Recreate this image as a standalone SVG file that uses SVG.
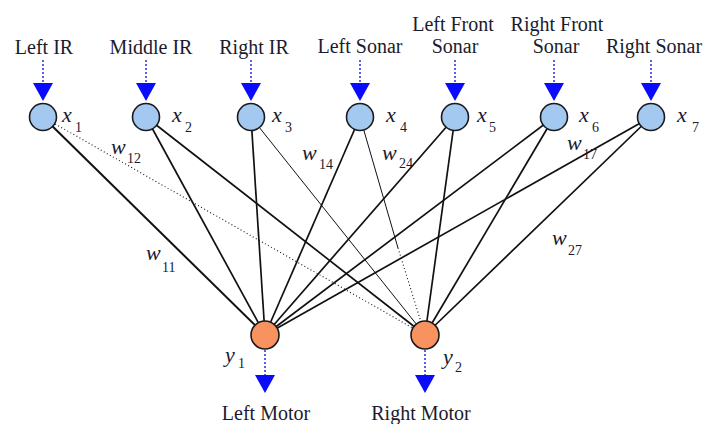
<svg xmlns="http://www.w3.org/2000/svg" width="707" height="424" viewBox="0 0 707 424">
  <style>
    .lbl { font-family: "Liberation Serif", "Times New Roman", serif; font-size: 20px; fill: #1b1b2e; text-anchor: middle; }
    .var { font-family: "Liberation Serif", "Times New Roman", serif; font-style: italic; font-size: 22px; fill: #1b1b2e; }
    .sub { font-family: "Liberation Serif", "Times New Roman", serif; font-size: 14px; fill: #1b1b2e; }
    .in { fill: #a3c9f1; stroke: #1a1a1a; stroke-width: 1.6; }
    .out { fill: #f8925e; stroke: #1a1a1a; stroke-width: 1.6; }
    .w { stroke: #111; stroke-width: 1.7; fill: none; }
    .thin { stroke: #111; stroke-width: 1; fill: none; }
    .dot { stroke: #111; stroke-width: 1.1; stroke-dasharray: 1 2.5; fill: none; }
    .feed { stroke: #2a2ae0; stroke-width: 1.5; stroke-dasharray: 2 2; fill: none; }
    .head { fill: #0a0aff; }
  </style>

  <!-- weighted connections, inputs to outputs -->
  <g id="connectors">
    <line class="w" x1="43" y1="117" x2="265" y2="335" style="stroke-width:2"/>
    <line class="dot" x1="43" y1="117" x2="425" y2="335"/>
    <line class="w" x1="146" y1="117" x2="265" y2="335"/>
    <line class="w" x1="146" y1="117" x2="425" y2="335"/>
    <line class="w" x1="251" y1="117" x2="265" y2="335"/>
    <line class="thin" x1="251" y1="117" x2="425" y2="335"/>
    <line class="w" x1="360" y1="117" x2="265" y2="335"/>
    <line class="thin" x1="360" y1="117" x2="398" y2="248"/>
    <line class="dot" x1="398" y1="248" x2="425" y2="335"/>
    <line class="w" x1="455" y1="117" x2="265" y2="335"/>
    <line class="w" x1="455" y1="117" x2="425" y2="335"/>
    <line class="w" x1="554" y1="117" x2="265" y2="335"/>
    <line class="w" x1="554" y1="117" x2="425" y2="335"/>
    <line class="w" x1="651" y1="117" x2="265" y2="335"/>
    <line class="w" x1="651" y1="117" x2="425" y2="335"/>
  </g>

  <!-- weight labels -->
  <g id="weights">
    <text class="var" x="111" y="154">w</text><text class="sub" x="127" y="163">12</text>
    <text class="var" x="146" y="260">w</text><text class="sub" x="162" y="272">11</text>
    <text class="var" x="302" y="160">w</text><text class="sub" x="319" y="169">14</text>
    <text class="var" x="382" y="160">w</text><text class="sub" x="399" y="168">24</text>
    <text class="var" x="567" y="150">w</text><text class="sub" x="583" y="159">17</text>
    <text class="var" x="552" y="245">w</text><text class="sub" x="568" y="255">27</text>
  </g>

  <!-- input nodes -->
  <g id="in1">
    <text class="lbl" x="44" y="54">Left IR</text>
    <line class="feed" x1="43" y1="60" x2="43" y2="84"/>
    <polygon class="head" points="33,83 53,83 43,101"/>
    <circle class="in" cx="43" cy="117" r="13.5"/>
    <text class="var" x="62" y="122">x</text><text class="sub" x="75" y="132">1</text>
  </g>
  <g id="in2">
    <text class="lbl" x="151" y="54">Middle IR</text>
    <line class="feed" x1="146" y1="60" x2="146" y2="84"/>
    <polygon class="head" points="136,83 156,83 146,101"/>
    <circle class="in" cx="146" cy="117" r="13.5"/>
    <text class="var" x="172" y="122">x</text><text class="sub" x="185" y="132">2</text>
  </g>
  <g id="in3">
    <text class="lbl" x="254" y="54">Right IR</text>
    <line class="feed" x1="251" y1="60" x2="251" y2="84"/>
    <polygon class="head" points="241,83 261,83 251,101"/>
    <circle class="in" cx="251" cy="117" r="13.5"/>
    <text class="var" x="272" y="122">x</text><text class="sub" x="285" y="132">3</text>
  </g>
  <g id="in4">
    <text class="lbl" x="360" y="53">Left Sonar</text>
    <line class="feed" x1="360" y1="60" x2="360" y2="84"/>
    <polygon class="head" points="350,83 370,83 360,101"/>
    <circle class="in" cx="360" cy="117" r="13.5"/>
    <text class="var" x="386" y="122">x</text><text class="sub" x="400" y="132">4</text>
  </g>
  <g id="in5">
    <text class="lbl" x="453" y="31">Left Front</text>
    <text class="lbl" x="455" y="53">Sonar</text>
    <line class="feed" x1="455" y1="60" x2="455" y2="84"/>
    <polygon class="head" points="445,83 465,83 455,101"/>
    <circle class="in" cx="455" cy="117" r="13.5"/>
    <text class="var" x="477" y="122">x</text><text class="sub" x="489" y="132">5</text>
  </g>
  <g id="in6">
    <text class="lbl" x="557" y="31">Right Front</text>
    <text class="lbl" x="556" y="53">Sonar</text>
    <line class="feed" x1="554" y1="60" x2="554" y2="84"/>
    <polygon class="head" points="544,83 564,83 554,101"/>
    <circle class="in" cx="554" cy="117" r="13.5"/>
    <text class="var" x="579" y="122">x</text><text class="sub" x="592" y="132">6</text>
  </g>
  <g id="in7">
    <text class="lbl" x="654" y="53">Right Sonar</text>
    <line class="feed" x1="651" y1="60" x2="651" y2="84"/>
    <polygon class="head" points="641,83 661,83 651,101"/>
    <circle class="in" cx="651" cy="117" r="13.5"/>
    <text class="var" x="677" y="122">x</text><text class="sub" x="692" y="132">7</text>
  </g>

  <!-- output nodes -->
  <g id="out1">
    <circle class="out" cx="265" cy="335" r="14"/>
    <line class="feed" x1="265" y1="350" x2="265" y2="376"/>
    <polygon class="head" points="255,375 275,375 265,393"/>
    <text class="var" x="225" y="362">y</text><text class="sub" x="238" y="368">1</text>
    <text class="lbl" x="266" y="420">Left Motor</text>
  </g>
  <g id="out2">
    <circle class="out" cx="425" cy="335" r="14"/>
    <line class="feed" x1="425" y1="350" x2="425" y2="376"/>
    <polygon class="head" points="415,375 435,375 425,393"/>
    <text class="var" x="443" y="364">y</text><text class="sub" x="455" y="372">2</text>
    <text class="lbl" x="421" y="420">Right Motor</text>
  </g>
</svg>
